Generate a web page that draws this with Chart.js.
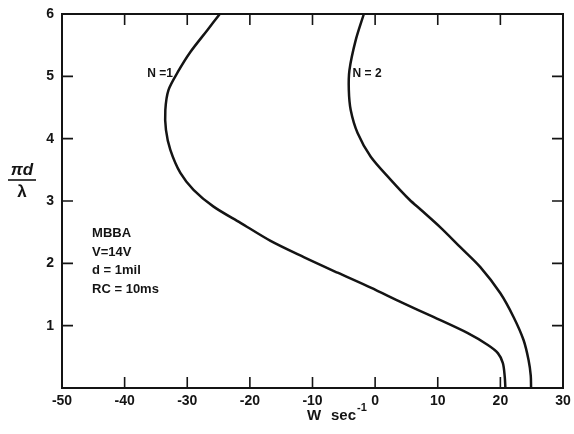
<!DOCTYPE html>
<html>
<head>
<meta charset="utf-8">
<script src="https://cdn.jsdelivr.net/npm/chart.js@4.4.0/dist/chart.umd.min.js"></script>
<style>
  html, body { margin: 0; padding: 0; background: #fff; }
  #wrap { width: 574px; height: 434px; }
</style>
</head>
<body>
<div id="wrap"><canvas id="waveChart"></canvas></div>
<script>
/* --------- DATA --------- */
const xTicks = [-50, -40, -30, -20, -10, 0, 10, 20, 30];
const yTicks = [1, 2, 3, 4, 5, 6];

const n1W = [-24.8, -26.8, -29.5, -31.5, -33.0, -33.5, -33.4, -32.7, -31.1, -29.0, -25.8, -21.5, -16.7, -11.4, -6.0, -0.7, 4.3, 9.3, 14.8, 18.0, 19.6, 20.4, 20.7, 20.8];
const n1Y = [6, 5.74, 5.39, 5.07, 4.78, 4.46, 4.14, 3.82, 3.45, 3.18, 2.91, 2.65, 2.36, 2.10, 1.85, 1.61, 1.37, 1.14, 0.88, 0.69, 0.56, 0.40, 0.18, 0];

const n2W = [-1.8, -3.1, -4.1, -4.2, -3.9, -2.8, -0.7, 2.5, 5.5, 7.3, 10.5, 13.6, 16.8, 20.0, 22.1, 23.7, 24.5, 24.85, 24.9];
const n2Y = [6, 5.58, 5.10, 4.78, 4.46, 4.09, 3.71, 3.34, 3.02, 2.86, 2.57, 2.26, 1.94, 1.52, 1.14, 0.77, 0.45, 0.2, 0];

const notes = ["MBBA", "V=14V", "d = 1mil", "RC = 10ms"];

/* --------- HELPERS --------- */
const toPoints = (xs, ys) => xs.map((x, i) => ({ x, y: ys[i] }));
const ink = "#141414";
const font = "Liberation Sans, Arial, sans-serif";

/* --------- FRAME + TEXT PLUGIN --------- */
const framePlugin = {
  id: "frame",
  afterDraw(chart) {
    const { ctx, chartArea: a, scales: { x, y } } = chart;
    ctx.save();
    ctx.strokeStyle = ink;
    ctx.lineWidth = 2;
    ctx.strokeRect(a.left, a.top, a.right - a.left, a.bottom - a.top);

    const t = 11;
    ctx.lineWidth = 1.6;
    ctx.beginPath();
    xTicks.slice(1, -1).forEach(v => {
      const px = x.getPixelForValue(v);
      ctx.moveTo(px, a.bottom); ctx.lineTo(px, a.bottom - t);
      ctx.moveTo(px, a.top); ctx.lineTo(px, a.top + t);
    });
    yTicks.slice(0, -1).forEach(v => {
      const py = y.getPixelForValue(v);
      ctx.moveTo(a.left, py); ctx.lineTo(a.left + t, py);
      ctx.moveTo(a.right, py); ctx.lineTo(a.right - t, py);
    });
    ctx.stroke();

    ctx.fillStyle = ink;
    ctx.textBaseline = "middle";
    ctx.font = `bold 12px ${font}`;

    // curve labels
    ctx.textAlign = "right";
    ctx.fillText("N =1", x.getPixelForValue(-32.3), y.getPixelForValue(5.05));
    ctx.textAlign = "left";
    ctx.fillText("N = 2", x.getPixelForValue(-3.6), y.getPixelForValue(5.05));

    // parameter block
    ctx.font = `bold 13px ${font}`;
    notes.forEach((s, i) => {
      ctx.fillText(s, x.getPixelForValue(-45.2), y.getPixelForValue(2.48) + i * 18.7);
    });

    // x title
    ctx.font = `bold 15px ${font}`;
    ctx.textAlign = "left";
    ctx.fillText("W", 307, 416);
    ctx.fillText("sec", 331, 416);
    ctx.font = `bold 11px ${font}`;
    ctx.fillText("-1", 357, 408);

    // y title (fraction)
    ctx.font = `italic bold 17px ${font}`;
    ctx.textAlign = "center";
    ctx.fillText("\u03C0d", 22, 170);
    ctx.lineWidth = 1.6;
    ctx.beginPath();
    ctx.moveTo(8, 180); ctx.lineTo(36, 180);
    ctx.stroke();
    ctx.font = `bold 17px ${font}`;
    ctx.fillText("\u03BB", 22, 192);
    ctx.restore();
  }
};

/* --------- CHART --------- */
const lineStyle = {
  showLine: true,
  borderColor: ink,
  borderWidth: 2.5,
  pointRadius: 0,
  tension: 0.3,
  clip: 4
};

new Chart(document.getElementById("waveChart"), {
  type: "scatter",
  data: {
    datasets: [
      { label: "N=1", data: toPoints(n1W, n1Y), ...lineStyle },
      { label: "N=2", data: toPoints(n2W, n2Y), ...lineStyle }
    ]
  },
  options: {
    responsive: true,
    maintainAspectRatio: false,
    animation: false,
    layout: { padding: { top: 14, right: 11, left: 0, bottom: 0 } },
    plugins: { legend: { display: false }, tooltip: { enabled: false } },
    scales: {
      x: {
        type: "linear",
        min: -50,
        max: 30,
        afterBuildTicks: s => { s.ticks = xTicks.map(v => ({ value: v })); },
        afterFit: s => { s.height = 46; s.paddingLeft = 0; s.paddingRight = 0; },
        grid: { display: false, tickLength: 0 },
        border: { display: false },
        ticks: { color: ink, font: { family: font, size: 14, weight: "bold" }, padding: 5 }
      },
      y: {
        type: "linear",
        min: 0,
        max: 6,
        afterBuildTicks: s => { s.ticks = yTicks.map(v => ({ value: v })); },
        afterFit: s => { s.width = 62; s.paddingTop = 0; s.paddingBottom = 0; },
        grid: { display: false, tickLength: 0 },
        border: { display: false },
        ticks: { color: ink, font: { family: font, size: 14, weight: "bold" }, padding: 8 }
      }
    }
  },
  plugins: [framePlugin]
});
</script>
</body>
</html>
